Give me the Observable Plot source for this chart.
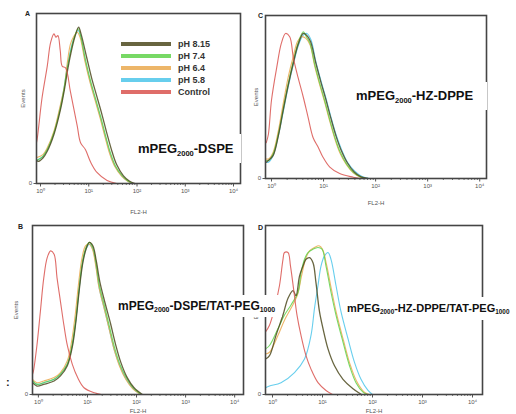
<!DOCTYPE html>
<html>
<head>
<meta charset="utf-8">
<script src="https://cdn.jsdelivr.net/npm/d3@7"></script>
<script src="https://cdn.jsdelivr.net/npm/@observablehq/plot@0.6"></script>
<style>
  html, body { margin: 0; padding: 0; background: #fff; }
  #wrap { position: relative; width: 516px; height: 414px; overflow: hidden; background: #fff; font-family: "Liberation Sans", Arial, sans-serif; }
  #wrap svg { position: absolute; overflow: visible; }
  .box { position: absolute; background: #fff; color: #111; font-weight: bold; white-space: nowrap; overflow: visible; z-index: 5; }
  .box sub { font-size: 0.58em; vertical-align: baseline; position: relative; top: 0.35em; }
  .letter { position: absolute; font-size: 7px; font-weight: bold; color: #222; z-index: 6; }
  .leg { position: absolute; z-index: 6; }
  .sw { position: absolute; height: 3.5px; width: 50px; }
  .lt { position: absolute; font-size: 9px; font-weight: bold; color: #333; line-height: 10px; }
</style>
</head>
<body>
<div id="wrap"></div>
<script>
// ---------- labels ----------
const tickLabels = ["10\u2070", "10\u00b9", "10\u00b2", "10\u00b3", "10\u2074"];
const seriesNames = ["pH 8.15", "pH 7.4", "pH 6.4", "pH 5.8", "Control"];
const seriesColors = ["#4d4a1e", "#5fd24a", "#eaa94f", "#4cc6ea", "#d9534f"];
const panelLetters = ["A", "C", "B", "D"];
const xLabel = "FL2-H";
const yLabel = "Events";

// ---------- data: [log10 fluorescence, events (% of frame)] ----------
// Panel A  mPEG2000-DSPE
const A_ph815 = [[-0.1,14],[-0.05,13],[0.05,15],[0.14,19],[0.28,29],[0.41,43],[0.5,56],[0.57,68],[0.64,78],[0.71,86],[0.79,92],[0.84,88],[0.95,75],[1.06,62],[1.16,52],[1.27,41],[1.38,29],[1.48,19],[1.58,11],[1.72,4.5],[1.84,1.5],[1.96,0]];
const A_ph74  = [[-0.1,14],[-0.05,14],[0.05,16],[0.14,20],[0.28,30],[0.41,44],[0.48,54],[0.55,67],[0.62,77],[0.69,85],[0.78,91],[0.83,87],[0.93,73],[1.04,60],[1.14,50],[1.24,40],[1.35,28],[1.45,18],[1.55,10.5],[1.69,4.7],[1.8,1.8],[1.92,0]];
const A_ph64  = [[-0.1,15],[0.05,17],[0.14,21],[0.28,31],[0.41,46],[0.5,58],[0.56,72],[0.62,82],[0.68,86],[0.76,89],[0.82,86],[0.92,72],[1.03,59],[1.13,49],[1.23,39],[1.34,27],[1.44,17],[1.54,10],[1.68,4.4],[1.8,1.5],[1.9,0]];
const A_ph58  = [[-0.1,13],[-0.05,14],[0.05,16],[0.14,20],[0.28,30],[0.41,45],[0.48,55],[0.55,68],[0.62,78],[0.7,86],[0.78,90],[0.83,87],[0.93,72],[1.04,59],[1.14,49],[1.24,39],[1.35,27],[1.45,17],[1.55,10],[1.69,4.4],[1.8,1.6],[1.9,0]];
const A_ctrl  = [[-0.1,22],[-0.07,26],[0.03,50],[0.14,69],[0.21,83],[0.28,88],[0.32,86],[0.36,87],[0.41,78],[0.45,69],[0.52,68],[0.62,54],[0.76,34],[0.83,24],[0.93,20],[1.04,12.5],[1.17,6.5],[1.38,1.8],[1.58,0]];

// Panel C  mPEG2000-HZ-DPPE
const C_ph815 = [[-0.1,10],[-0.06,11],[0.03,14],[0.13,26],[0.22,41],[0.32,57],[0.42,71],[0.51,82],[0.61,89],[0.67,88],[0.75,84],[0.85,71],[0.95,59],[1.04,49],[1.14,37],[1.24,26],[1.33,18],[1.46,9.5],[1.59,4],[1.72,1],[1.85,0]];
const C_ph74  = [[-0.1,11],[-0.06,11],[0.03,15],[0.13,27],[0.22,42],[0.32,58],[0.42,72],[0.51,83],[0.61,90],[0.67,87],[0.74,83],[0.83,70],[0.93,58],[1.02,48],[1.12,36],[1.22,25],[1.31,17],[1.44,9],[1.57,4],[1.7,1],[1.82,0]];
const C_ph64  = [[-0.1,12],[-0.06,12],[0.03,16],[0.13,29],[0.22,45],[0.32,62],[0.42,75],[0.5,84],[0.58,87],[0.66,86],[0.74,82],[0.83,69],[0.93,57],[1.02,47],[1.12,35],[1.22,24],[1.31,16],[1.44,8.5],[1.57,3.5],[1.7,1],[1.82,0]];
const C_ph58  = [[-0.1,10],[-0.06,10],[0.03,14],[0.13,26],[0.22,40],[0.32,56],[0.42,70],[0.51,81],[0.61,88],[0.68,89],[0.76,85],[0.85,72],[0.95,60],[1.04,50],[1.14,38],[1.24,27],[1.33,19],[1.46,10],[1.6,4.5],[1.74,1.2],[1.88,0]];
const C_ctrl  = [[-0.1,22],[-0.06,27],[0,48],[0.1,68],[0.19,83],[0.27,89],[0.35,87],[0.42,74],[0.51,62],[0.61,50],[0.7,38],[0.8,25],[0.9,19],[0.99,13],[1.12,7],[1.31,3],[1.57,0.8],[1.7,0]];

// Panel B  mPEG2000-DSPE/TAT-PEG1000
const B_ph815 = [[-0.12,7],[-0.03,5],[0.11,6],[0.32,8],[0.45,11],[0.59,17],[0.69,28],[0.76,42],[0.83,61],[0.9,77],[0.97,86],[1.04,90],[1.11,88],[1.18,79],[1.25,67],[1.36,54],[1.47,42],[1.57,30],[1.68,19],[1.81,10],[1.95,4],[2.12,0]];
const B_ph74  = [[-0.12,8],[-0.03,6],[0.11,7],[0.32,9],[0.45,12],[0.59,18],[0.69,30],[0.76,44],[0.83,63],[0.9,79],[0.97,87],[1.04,90],[1.11,87],[1.18,77],[1.24,65],[1.35,52],[1.45,40],[1.55,28],[1.66,18],[1.79,10],[1.93,4],[2.1,0]];
const B_ph64  = [[-0.12,9],[-0.03,7],[0.11,8],[0.32,10],[0.45,13],[0.59,20],[0.68,32],[0.75,47],[0.82,66],[0.89,81],[0.96,88],[1.03,89],[1.1,86],[1.17,76],[1.23,64],[1.34,51],[1.44,39],[1.54,27],[1.65,17],[1.78,9],[1.92,3.5],[2.08,0]];
const B_ph58  = [[-0.12,8],[-0.03,6],[0.11,7],[0.32,9],[0.45,12],[0.59,18],[0.69,29],[0.76,43],[0.83,62],[0.9,78],[0.97,86],[1.04,89],[1.11,86],[1.18,75],[1.24,63],[1.35,50],[1.45,38],[1.55,26],[1.66,17],[1.79,9],[1.93,3.5],[2.08,0]];
const B_ctrl  = [[-0.12,12],[-0.1,14],[-0.03,29],[0.04,49],[0.11,69],[0.18,81],[0.25,85],[0.32,83],[0.38,69],[0.45,55],[0.52,41],[0.59,29],[0.69,18],[0.8,10],[0.93,4],[1.14,1],[1.28,0]];

// Panel D  mPEG2000-HZ-DPPE/TAT-PEG1000
const D_ph815 = [[-0.14,21],[-0.06,23],[0.07,35],[0.21,47],[0.31,57],[0.41,61.5],[0.47,58.5],[0.54,70],[0.61,76],[0.67,80],[0.74,81],[0.81,78],[0.87,66],[0.94,49],[1.01,39],[1.11,27],[1.24,17],[1.41,9],[1.61,3.4],[1.78,0]];
const D_ph74  = [[-0.14,27],[-0.06,29],[0.11,39],[0.24,47],[0.37,53],[0.51,60.5],[0.57,72],[0.64,80],[0.71,84],[0.81,86],[0.91,87],[0.99,86],[1.07,76],[1.17,60.5],[1.27,47],[1.41,31],[1.54,17],[1.67,7],[1.81,1.4],[1.9,0]];
const D_ph64  = [[-0.14,24],[-0.06,25],[0.11,35],[0.24,44],[0.37,51],[0.5,59],[0.58,70],[0.66,80],[0.74,85],[0.84,87],[0.93,88],[1.0,86],[1.08,77],[1.18,62],[1.28,48],[1.42,32],[1.55,18],[1.68,8],[1.83,1.6],[1.93,0]];
const D_ph58  = [[-0.14,4],[-0.06,5],[0.17,7],[0.44,13],[0.64,21],[0.77,35],[0.84,51],[0.91,64.5],[0.97,76],[1.04,82],[1.11,84],[1.17,80],[1.27,64.5],[1.37,49],[1.51,33],[1.64,19],[1.77,9],[1.91,2.4],[2.0,0]];
const D_ctrl  = [[-0.14,37],[-0.06,41],[0.04,51],[0.14,64.5],[0.21,80],[0.24,84],[0.31,84],[0.36,76],[0.43,60.5],[0.49,47],[0.57,35],[0.67,23],[0.77,15],[0.91,7],[1.07,2.4],[1.2,0]];

// ---------- panel config ----------
const panels = [
  { key: "A", series: [A_ph815, A_ph74, A_ph64, A_ph58, A_ctrl], left: 0, top: 0, width: 258, height: 222,
    mL: 36, mR: 18, mT: 13, mB: 39, dom: [-0.083, 4.145], yOff: 16, xOff: 30, letter: [25, 10] },
  { key: "C", series: [C_ph815, C_ph74, C_ph64, C_ph58, C_ctrl], left: 236, top: 0, width: 280, height: 222,
    mL: 29, mR: 30, mT: 15, mB: 44, dom: [-0.115, 4.13], yOff: 12, xOff: 26, letter: [258, 12] },
  { key: "B", series: [B_ph815, B_ph74, B_ph64, B_ph58, B_ctrl], left: 0, top: 215, width: 258, height: 215,
    mL: 32, mR: 15, mT: 10, mB: 36, dom: [-0.12, 4.18], yOff: 19, xOff: 18, letter: [18, 223] },
  { key: "D", series: [D_ph815, D_ph74, D_ph64, D_ph58, D_ctrl], left: 236, top: 215, width: 280, height: 215,
    mL: 29, mR: 34, mT: 10, mB: 36, dom: [-0.14, 4.2], yOff: 12, xOff: 18, letter: [258, 224] }
];

const majorTicks = [0, 1, 2, 3, 4];
const minorTicks = [];
for (let n = 0; n < 4; n++) for (let k = 2; k <= 9; k++) minorTicks.push(n + Math.log10(k));

const wrap = document.getElementById("wrap");
const drawOrder = [3, 2, 1, 0, 4];

panels.forEach((p, pi) => {
  const lineMarks = drawOrder.map(si =>
    Plot.line(p.series[si], {
      x: d => d[0], y: d => d[1],
      stroke: seriesColors[si],
      strokeWidth: si === 0 ? 1.3 : 1.1,
      strokeOpacity: 0.85,
      curve: "catmull-rom",
      clip: true
    })
  );
  const svg = Plot.plot({
    width: p.width, height: p.height,
    marginLeft: p.mL, marginRight: p.mR, marginTop: p.mT, marginBottom: p.mB,
    x: { domain: p.dom },
    y: { domain: [0, 100] },
    style: { background: "transparent", fontFamily: "Liberation Sans, Arial, sans-serif", fontSize: "6px", color: "#555", overflow: "visible" },
    marks: [
      Plot.axisX({ ticks: minorTicks, tickSize: 2, text: null, label: null, stroke: "#777" }),
      Plot.axisX({ ticks: majorTicks, tickFormat: d => tickLabels[d], tickSize: 3.5, tickPadding: 2, stroke: "#555",
                   fill: "#555", fontSize: 6, label: xLabel, labelAnchor: "center", labelArrow: "none", labelOffset: p.xOff }),
      Plot.axisY({ ticks: [0], tickFormat: d => String(d), tickSize: 2.5, tickPadding: 2, stroke: "#555",
                   fill: "#555", fontSize: 6, label: yLabel, labelAnchor: "center", labelArrow: "none", labelOffset: p.yOff }),
      ...lineMarks,
      Plot.frame({ stroke: "#454545", strokeWidth: 1.6 })
    ]
  });
  svg.style.left = p.left + "px";
  svg.style.top = p.top + "px";
  svg.style.maxWidth = "none";
  wrap.appendChild(svg);

  const L = document.createElement("div");
  L.className = "letter";
  L.textContent = panelLetters[pi];
  L.style.left = p.letter[0] + "px";
  L.style.top = p.letter[1] + "px";
  wrap.appendChild(L);
});

// ---------- legend (panel A) ----------
const leg = document.createElement("div");
leg.className = "leg";
leg.style.cssText = "left:118px;top:36px;width:112px;height:64px;background:#fff;position:absolute;z-index:4;";
wrap.appendChild(leg);
seriesNames.forEach((name, i) => {
  const sw = document.createElement("div");
  sw.className = "sw";
  sw.style.left = "3px";
  sw.style.top = (8 + 12 * i - 1.75) + "px";
  sw.style.background = seriesColors[i];
  sw.style.opacity = "0.85";
  leg.appendChild(sw);
  const t = document.createElement("div");
  t.className = "lt";
  t.textContent = name;
  t.style.left = "60px";
  t.style.top = (8 + 12 * i - 5) + "px";
  leg.appendChild(t);
});

// ---------- sample labels ----------
const boxes = [
  { html: "mPEG<sub>2000</sub>-DSPE", left: 135, top: 134, w: 106, h: 29, fs: 13, pad: 3 },
  { html: "mPEG<sub>2000</sub>-HZ-DPPE", left: 353, top: 82, w: 134, h: 28, fs: 13, pad: 3 },
  { html: "mPEG<sub>2000</sub>-DSPE/TAT-PEG<sub>1000</sub>", left: 116, top: 295, w: 166, h: 22, fs: 12, pad: 2 },
  { html: "mPEG<sub>2000</sub>-HZ-DPPE/TAT-PEG<sub>1000</sub>", left: 344, top: 297, w: 172, h: 23, fs: 11, pad: 3 }
];
boxes.forEach(b => {
  const d = document.createElement("div");
  d.className = "box";
  d.innerHTML = b.html;
  d.style.left = b.left + "px";
  d.style.top = b.top + "px";
  d.style.width = b.w + "px";
  d.style.height = b.h + "px";
  d.style.lineHeight = b.h + "px";
  d.style.fontSize = b.fs + "px";
  d.style.paddingLeft = b.pad + "px";
  d.style.boxSizing = "border-box";
  wrap.appendChild(d);
});

const colon = document.createElement("div");
colon.className = "letter";
colon.style.cssText = "position:absolute;left:6px;top:376px;font-size:11px;font-weight:bold;color:#222;";
colon.textContent = ":";
wrap.appendChild(colon);
</script>
</body>
</html>
